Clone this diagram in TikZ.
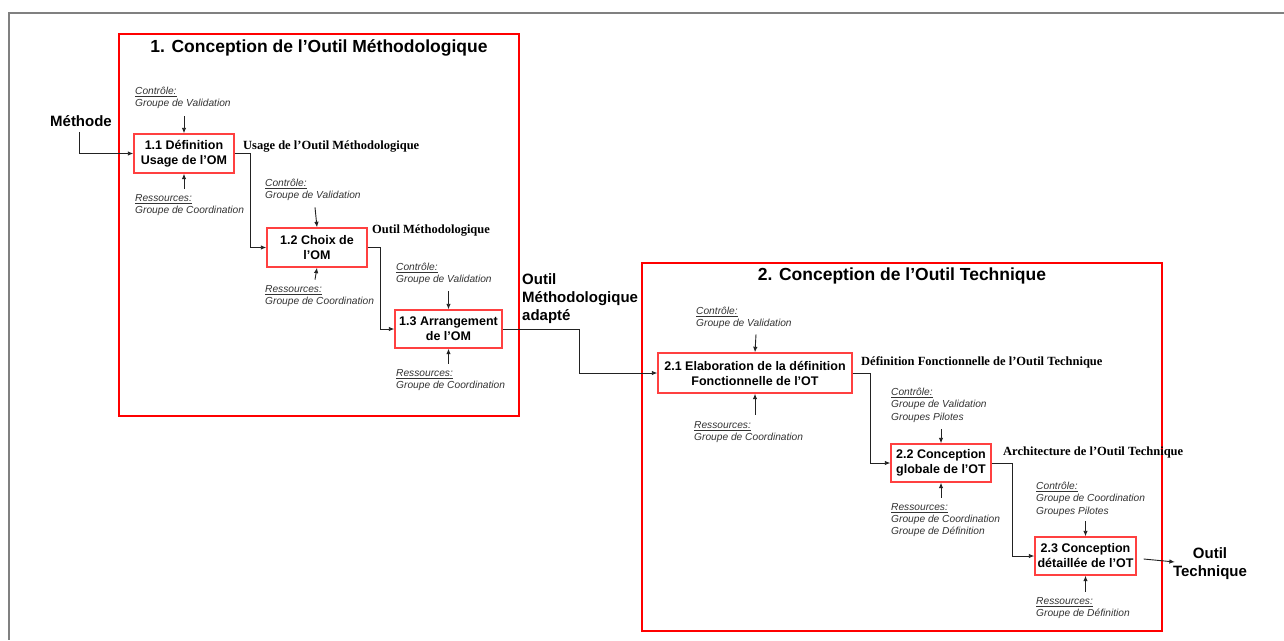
\documentclass[tikz,border=0pt]{standalone}
\usepackage{fontspec}
\setmainfont{Liberation Sans}
\newfontfamily\outfont{Liberation Serif}
\usetikzlibrary{arrows.meta,positioning}
\definecolor{IdefRed}{HTML}{FF0000}
\definecolor{IdefRose}{HTML}{FF4040}
\definecolor{IdefFrame}{HTML}{808080}
\definecolor{IdefInk}{HTML}{222222}
\definecolor{IdefNote}{HTML}{333333}
\tikzset{
  stage/.style={draw=IdefRed,line width=2.5pt},
  stagetitle/.style={inner sep=0,font=\fontsize{17.5}{21}\selectfont\bfseries},
  activity/.style={draw=IdefRose,line width=1.4pt,align=center,inner sep=0,
    font=\fontsize{12.5}{15}\selectfont\bfseries},
  note/.style={anchor=north west,align=left,inner sep=0,text=IdefNote,
    font=\fontsize{10.2}{12.3}\selectfont\itshape},
  product/.style={anchor=west,inner sep=0,font=\fontsize{12.5}{15}\selectfont\outfont\bfseries},
  bigio/.style={inner sep=0,align=center,font=\fontsize{15}{18}\selectfont\bfseries},
  flow/.style={-{Latex[length=5.5pt,width=4.5pt]},draw=IdefInk,line width=0.9pt}
}

\begin{document}
\begin{tikzpicture}[x=1pt,y=-1pt]
  \useasboundingbox (0,0) rectangle (1284,640);
  \draw[IdefFrame,line width=2pt] (1284,13) -| (9,640);
  % the two stages
  \node[stage,minimum width=400pt,minimum height=382pt] (stage1) at (319,225) {};
  \node[stage,minimum width=520pt,minimum height=368pt] (stage2) at (902,447) {};
  \node[stagetitle] (title1) at (319,48) {1. Conception de l’Outil Méthodologique};
  \node[stagetitle] (title2) at (902,276) {2. Conception de l’Outil Technique};

  % activities
  \node[activity,minimum width=100pt,minimum height=39pt] (a11) at (184,153.5) {1.1 Définition\\Usage de l’OM};
  \node[activity,minimum width=100pt,minimum height=39pt] (a12) at (317,247.5) {1.2 Choix de\\l’OM};
  \node[activity,minimum width=107pt,minimum height=38pt] (a13) at (448.5,329) {1.3 Arrangement\\de l’OM};
  \node[activity,minimum width=194pt,minimum height=40pt] (a21) at (755,373) {2.1 Elaboration de la définition\\Fonctionnelle de l’OT};
  \node[activity,minimum width=100pt,minimum height=38pt] (a22) at (941,463) {2.2 Conception\\globale de l’OT};
  \node[activity,minimum width=101pt,minimum height=38pt] (a23) at (1085.5,556) {2.3 Conception\\détaillée de l’OT};

  % controls and resources
  \node[note] (c11) at (135,87) {\underline{Contrôle:}\\Groupe de Validation};
  \node[note] (r11) at (135,194) {\underline{Ressources:}\\Groupe de Coordination};
  \node[note] (c12) at (265,179) {\underline{Contrôle:}\\Groupe de Validation};
  \node[note] (r12) at (265,285) {\underline{Ressources:}\\Groupe de Coordination};
  \node[note] (c13) at (396,263) {\underline{Contrôle:}\\Groupe de Validation};
  \node[note] (r13) at (396,369) {\underline{Ressources:}\\Groupe de Coordination};
  \node[note] (c21) at (696,307) {\underline{Contrôle:}\\Groupe de Validation};
  \node[note] (r21) at (694,421) {\underline{Ressources:}\\Groupe de Coordination};
  \node[note] (c22) at (891,388) {\underline{Contrôle:}\\Groupe de Validation\\Groupes Pilotes};
  \node[note] (r22) at (891,503) {\underline{Ressources:}\\Groupe de Coordination\\Groupe de Définition};
  \node[note] (c23) at (1036,482) {\underline{Contrôle:}\\Groupe de Coordination\\Groupes Pilotes};
  \node[note] (r23) at (1036,597) {\underline{Ressources:}\\Groupe de Définition};

  % inputs and outputs
  \node[bigio] (methode) at (81,121) {Méthode};
  \node[product] (p11) at (243,147) {Usage de l’Outil Méthodologique};
  \node[product] (p12) at (372,231) {Outil Méthodologique};
  \node[bigio,anchor=west,align=left] (p13) at (522,299) {Outil\\Méthodologique\\adapté};
  \node[product] (p21) at (861,362) {Définition Fonctionnelle de l’Outil Technique};
  \node[product] (p22) at (1003,452) {Architecture de l’Outil Technique};
  \node[bigio] (p23) at (1210,564) {Outil\\Technique};

  \draw[flow] ([xshift=-2pt,yshift=-5pt]methode.south) |- (a11.west);
  \draw[flow] (a11.east) -| ([xshift=-16pt]a12.west) -- (a12.west);
  \draw[flow] (a12.east) -| ([xshift=-14pt]a13.west) -- (a13.west);
  \draw[flow] (a13.east) -| ([xshift=-78pt]a21.west) -- (a21.west);
  \draw[flow] (a21.east) -| ([xshift=-20pt]a22.west) -- (a22.west);
  \draw[flow] (a22.east) -| ([xshift=-22pt]a23.west) -- (a23.west);
  \draw[flow] ([xshift=7pt,yshift=-3pt]a23.east) -- ([xshift=2pt,yshift=2pt]p23.west);

  \draw[flow] ([yshift=17pt]a11.north) -- (a11.north);
  \draw[flow] ([yshift=-15pt]a11.south) -- (a11.south);
  \draw[flow] ([xshift=-2pt,yshift=20pt]a12.north) -- (a12.north);
  \draw[flow] ([xshift=-2pt,yshift=-12pt]a12.south) -- (a12.south);
  \draw[flow] ([yshift=18pt]a13.north) -- (a13.north);
  \draw[flow] ([yshift=-15pt]a13.south) -- (a13.south);
  \draw[flow] ([xshift=1pt,yshift=18pt]a21.north) -- (a21.north);
  \draw[flow] ([yshift=-21pt]a21.south) -- (a21.south);
  \draw[flow] ([yshift=14pt]a22.north) -- (a22.north);
  \draw[flow] ([yshift=-15pt]a22.south) -- (a22.south);
  \draw[flow] ([yshift=15pt]a23.north) -- (a23.north);
  \draw[flow] ([yshift=-16pt]a23.south) -- (a23.south);
\end{tikzpicture}
\end{document}
